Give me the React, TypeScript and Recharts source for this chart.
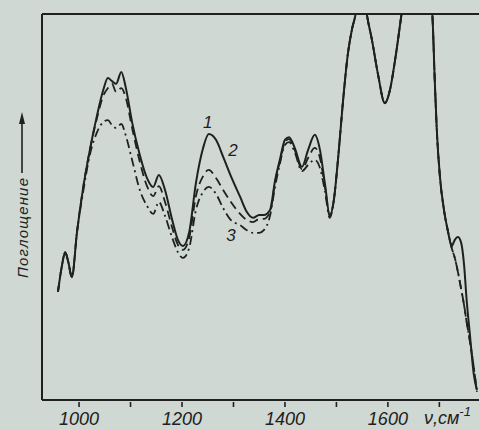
import { LineChart, Line, XAxis, YAxis, ReferenceDot } from 'recharts'

// wavenumber, cm^-1
const wavenumber = [
  959, 967, 973, 979, 986, 996, 1008, 1021, 1035, 1047, 1056, 1064, 1072, 1082, 1091, 1103, 1118, 1132, 1144, 1155,
  1167, 1181, 1192, 1202, 1214, 1227, 1241, 1252, 1266, 1280, 1295, 1313, 1326, 1338, 1350, 1359, 1371, 1381, 1390, 1400,
  1408, 1419, 1433, 1445, 1458, 1468, 1478, 1487, 1495, 1503, 1513, 1522, 1530, 1538, 1548, 1559, 1569, 1581, 1594, 1604,
  1614, 1627, 1653, 1686, 1691, 1695, 1701, 1709, 1717, 1724, 1730, 1736, 1742, 1748, 1753, 1759, 1767, 1773,
]

const curve1 = [
  28.0, 35.0, 38.3, 35.8, 31.8, 43.5, 55.0, 64.8, 73.8, 80.3, 83.4, 82.6, 81.9, 85.0, 80.8, 72.0, 63.5, 57.5, 55.2, 58.3,
  54.4, 46.6, 41.5, 39.9, 43.5, 56.2, 65.3, 68.9, 67.4, 63.0, 58.0, 52.6, 48.7, 47.2, 47.9, 47.9, 49.2, 57.0, 62.2, 67.4,
  68.1, 65.3, 60.4, 64.8, 68.7, 64.8, 55.7, 47.9, 51.8, 62.2, 77.7, 89.4, 95.9, 100.5, 112, 100, 93.3, 84.2, 76.9, 80.3,
  88.1, 100.5, 125, 100.5, 83.0, 70.0, 58.0, 49.2, 43.5, 39.9, 41.5, 42.2, 40.9, 35.0, 25.9, 17.4, 6.5, 2.6,
]

const curve2 = [
  28.0, 35.0, 38.3, 35.8, 31.8, 43.5, 55.0, 64.8, 73.1, 78.8, 80.8, 81.9, 79.8, 80.8, 78.2, 70.5, 61.7, 55.4, 52.8, 55.4,
  51.3, 44.6, 40.2, 38.9, 42.0, 52.8, 58.0, 59.6, 57.5, 54.4, 51.3, 48.2, 46.6, 46.1, 46.9, 46.9, 48.7, 56.5, 61.7, 66.8,
  67.6, 64.8, 59.8, 62.7, 65.3, 62.7, 54.9, 47.7, 51.8, 62.2, 77.7, 89.4, 95.9, 100.5, 112, 100, 93.3, 84.2, 76.9, 80.3,
  88.1, 100.5, 125, 100.5, 83.0, 70.0, 58.0, 49.2, 43.5, 39.4, 36.8, 33.2, 29.0, 24.6, 20.2, 15.5, 8.3, 2.1,
]

const curve3 = [
  28.0, 35.0, 38.3, 35.8, 31.8, 43.5, 54.0, 63.5, 69.4, 72.0, 72.5, 71.2, 70.5, 71.5, 68.4, 62.2, 54.4, 50.3, 48.2, 51.3,
  47.7, 42.0, 38.3, 36.8, 39.4, 49.2, 53.9, 55.2, 53.4, 49.7, 46.6, 45.3, 44.0, 43.3, 43.3, 44.0, 47.7, 55.4, 61.1, 66.1,
  66.8, 64.2, 59.3, 60.9, 62.2, 60.1, 53.9, 47.2, 51.8, 62.2, 77.7, 89.4, 95.9, 100.5, 112, 100, 93.3, 84.2, 76.9, 80.3,
  88.1, 100.5, 125, 100.5, 83.0, 70.0, 58.0, 49.2, 43.5, 39.4, 36.8, 33.2, 29.0, 24.6, 20.2, 15.5, 8.3, 2.1,
]

const xTicks = [1000, 1100, 1200, 1300, 1400, 1500, 1600, 1700]
const labelledTicks = [1000, 1200, 1400, 1600]

// curve numbers written on the plot: [label, wavenumber, value]
const curveLabels: [string, number, number][] = [
  ['1', 1250, 72.0],
  ['2', 1299, 64.8],
  ['3', 1295, 42.7],
]

const data = wavenumber.map((w, i) => ({ w, c1: curve1[i], c2: curve2[i], c3: curve3[i] }))

const INK = '#1f2120'
const PAPER = '#cfd8d3'

function XTick({ x, y, payload }: any) {
  const v = payload.value
  return (
    <g>
      <line x1={x} y1={y - 6} x2={x} y2={y - 1} stroke={INK} strokeWidth={1.6} />
      {labelledTicks.includes(v) && (
        <text x={x} y={y + 17} textAnchor="middle" fontStyle="italic" fontSize={18} fill={INK}>
          {v}
        </text>
      )}
    </g>
  )
}

function YTitle() {
  return (
    <g>
      <text
        x={28}
        y={228}
        transform="rotate(-90 28 228)"
        textAnchor="middle"
        fontStyle="italic"
        fontSize={15}
        fill={INK}
        textLength={100}
        lengthAdjust="spacing"
      >
        Поглощение
      </text>
      <line x1={22} y1={173} x2={22} y2={122} stroke={INK} strokeWidth={1.6} />
      <path d="M22,112 L19,124 L25,124 Z" fill={INK} />
    </g>
  )
}

function XUnit() {
  return (
    <text x={424} y={424} fontStyle="italic" fontSize={18} fill={INK}>
      ν,см
      <tspan dy={-8} fontSize={13}>-1</tspan>
    </text>
  )
}

export default function App() {
  return (
    <div style={{ position: 'absolute', left: 0, top: 0, width: 479, height: 430, background: PAPER, fontFamily: 'Liberation Sans, Arial, sans-serif' }}>
      <LineChart width={479} height={430} data={data} margin={{ top: 13, right: 0, bottom: 0, left: 40 }}>
        <XAxis
          dataKey="w"
          type="number"
          domain={[928, 1777]}
          ticks={xTicks}
          height={30}
          tickSize={6}
          tickLine={false}
          axisLine={{ stroke: INK, strokeWidth: 2 }}
          tick={<XTick />}
          allowDataOverflow
          label={<XUnit />}
        />
        <XAxis xAxisId="top" orientation="top" dataKey="w" type="number" domain={[928, 1777]} height={1} tick={false} tickLine={false} axisLine={{ stroke: INK, strokeWidth: 2 }} />
        <YAxis
          type="number"
          domain={[0, 100]}
          width={2}
          tick={false}
          tickLine={false}
          axisLine={{ stroke: INK, strokeWidth: 2 }}
          allowDataOverflow
          label={<YTitle />}
        />
        <Line type="monotone" dataKey="c3" stroke={INK} strokeWidth={1.8} strokeDasharray="9 4 2 4" dot={false} isAnimationActive={false} />
        <Line type="monotone" dataKey="c2" stroke={INK} strokeWidth={1.8} strokeDasharray="9 5" dot={false} isAnimationActive={false} />
        <Line type="monotone" dataKey="c1" stroke={INK} strokeWidth={2} dot={false} isAnimationActive={false} />
        {curveLabels.map(([text, w, v]) => (
          <ReferenceDot
            key={text}
            x={w}
            y={v}
            r={0}
            stroke="none"
            fill="none"
            label={{ value: text, position: 'center', fill: INK, fontSize: 17, fontStyle: 'italic' }}
          />
        ))}
      </LineChart>
    </div>
  )
}
